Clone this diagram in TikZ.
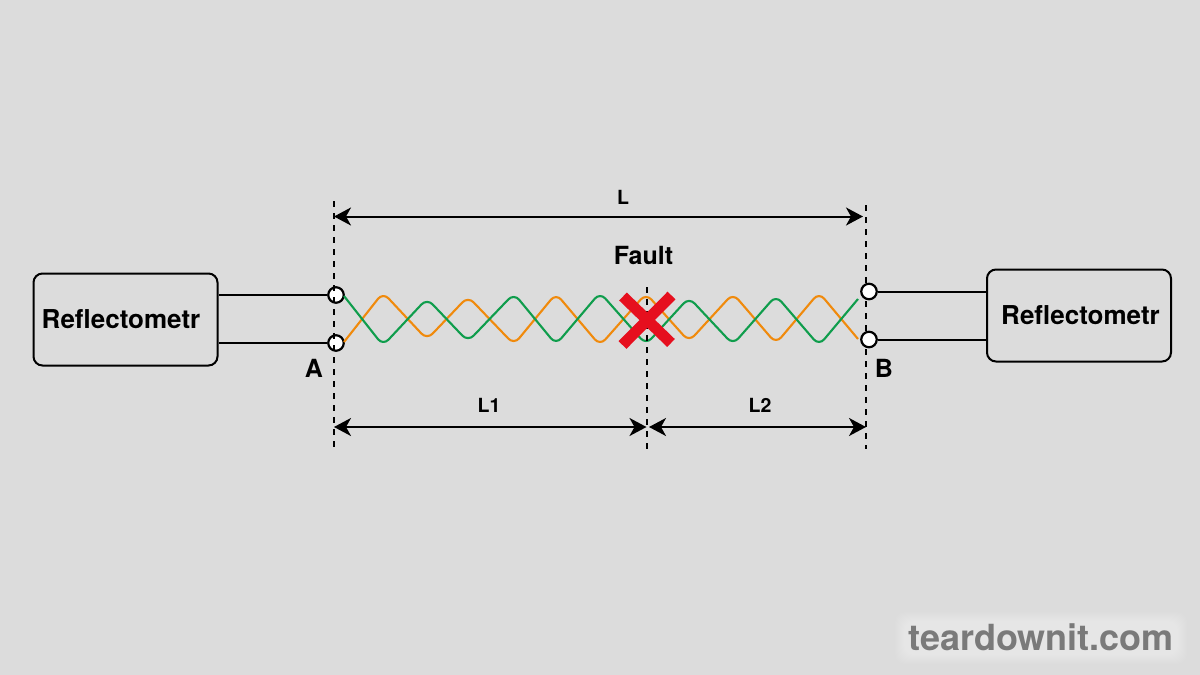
\documentclass[tikz,border=0pt]{standalone}
\usepackage{fontspec}
\setmainfont{TeX Gyre Heros}
\usetikzlibrary{arrows.meta}
\definecolor{bg}{HTML}{DCDCDC}
\definecolor{wgreen}{HTML}{0F9D4C}
\definecolor{worange}{HTML}{F08A0C}
\definecolor{xred}{HTML}{E60F1E}
\definecolor{wm}{HTML}{7A7A7A}
\tikzset{
  instr/.style={draw=black,line width=2pt,rounded corners=9pt,fill=none,inner sep=0},
  lead/.style={draw=black,line width=2pt},
  term/.style={circle,draw=black,fill=white,line width=2.2pt,minimum size=15.5pt,inner sep=0},
  guide/.style={draw=black,line width=2pt,dash pattern=on 6pt off 6pt},
  dim/.style={draw=black,line width=2pt,{Stealth[length=17pt,width=18pt,inset=5pt]}-{Stealth[length=17pt,width=18pt,inset=5pt]}},
  lab/.style={font=\bfseries\fontsize{19.5}{22}\selectfont,inner sep=0},
  biglab/.style={font=\bfseries\fontsize{26}{28}\selectfont,inner sep=0},
  midlab/.style={font=\bfseries\fontsize{25}{27}\selectfont,inner sep=0},
  wire/.style={line width=2.1pt,rounded corners=8pt,line join=round},
  wmark/.style={font=\bfseries\fontsize{36}{40}\selectfont,inner sep=0},
}
\begin{document}
\begin{tikzpicture}[x=1pt,y=-1pt]
\fill[bg] (0,0) rectangle (1200,675);
\useasboundingbox (0,0) rectangle (1200,675);
% boxes
\node[instr,minimum width=184pt,minimum height=92pt] (left) at (125.5,319.5) {};
\node[instr,minimum width=184pt,minimum height=92pt] (right) at (1079,315.5) {};
\node[biglab] (leftt) at (121,319) {Reflectometr};
\node[biglab] (rightt) at (1080.5,315) {Reflectometr};
% terminals and right-hand guide
\coordinate (gc) at (865.5,205);
\coordinate (gd) at (865.5,449);
\draw[guide] (gc) -- (gd);
\node[term] (a1) at (336,295) {};
\node[term] (a2) at (336,343) {};
\node[term] (b1) at (869,291.5) {};
\node[term] (b2) at (869,339.5) {};
\draw[lead] (a1) -- (a1-|left.east);
\draw[lead] (a2) -- (a2-|left.east);
\draw[lead] (b1) -- (b1-|right.west);
\draw[lead] (b2) -- (b2-|right.west);
% guide lines
\coordinate (ga) at (334,201);
\coordinate (gb) at (334,449);
\coordinate (ge) at (647,287);
\coordinate (gf) at (647,449);
\draw[guide] (ga) -- (gb);
% twisted pair
\draw[wire,draw=worange] (344,342) -- (383,292.5) -- (427,339.5) -- (468,296.5) -- (514,344.5) -- (556,293.5) -- (600,345.5) -- (646,293.5) -- (689,341.5) -- (733,293.5) -- (776,343.5) -- (819,292.5) -- (858,339);
\draw[wire,draw=wgreen] (344,296) -- (383,345.5) -- (427,298.5) -- (468,341.5) -- (514,293.5) -- (556,344.5) -- (600,292.5) -- (646,344.5) -- (689,297.5) -- (733,344.5) -- (776,295.5) -- (819,345.5) -- (858,299);
% fault guide and cross
\draw[guide] (ge) -- (gf);
\coordinate (x1) at (623,296.5);
\coordinate (x2) at (671,343);
\coordinate (x3) at (671.5,295.5);
\coordinate (x4) at (622.5,345);
\draw[xred,line width=11pt] (x1) -- (x2) (x3) -- (x4);
% dimensions
\coordinate (l1) at (334,216.5);
\coordinate (l2) at (863,216.5);
\coordinate (m1) at (334,427);
\coordinate (m2) at (646.5,427);
\coordinate (m3) at (649,427);
\coordinate (m4) at (866,427);
\draw[dim] (l1) -- (l2);
\draw[dim] (m1) -- (m2);
\draw[dim] (m3) -- (m4);
% labels
\node[lab] (tl) at (623,197) {L};
\node[midlab] (tf) at (643.5,255) {Fault};
\node[midlab] (ta) at (314,368) {A};
\node[midlab] (tb) at (884,368) {B};
\node[lab] (tl1) at (489,405) {L1};
\node[lab] (tl2) at (760,405) {L2};
% watermark halo
\foreach \w in {1,2,...,14}{
  \fill[white,opacity=0.04,rounded corners=10pt] (909-\w,626-\w) rectangle (1173+\w,650+\w);
}
\node[wmark,text=wm] (wm) at (1041,637) {teardownit.com};
\end{tikzpicture}
\end{document}
